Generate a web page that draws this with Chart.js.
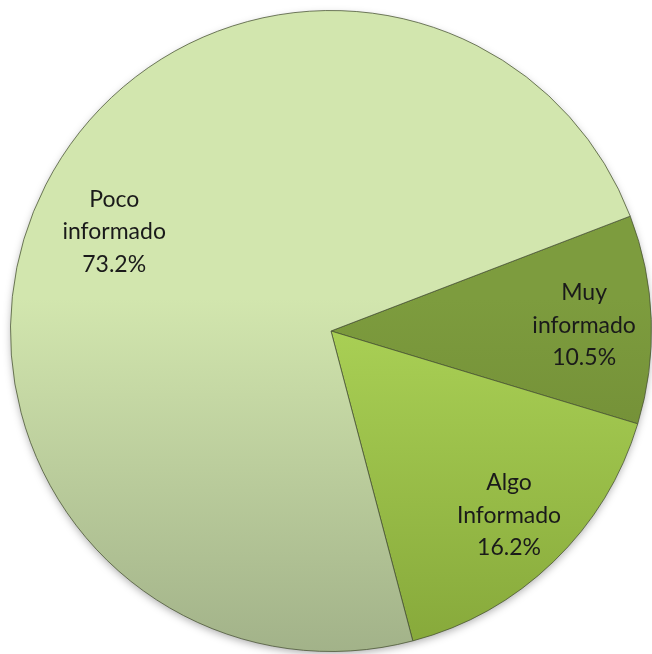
<!DOCTYPE html>
<html>
<head>
    <title>Nivel de información</title>
    <script src="https://cdn.jsdelivr.net/npm/chart.js"></script>
    <style>
        html, body { margin: 0; padding: 0; background: #fff; }
        .chart-container { width: 652px; height: 654px; }
    </style>
</head>
<body>
    <div class="chart-container">
        <canvas id="pieChart"></canvas>
    </div>

    <script>
        // datos
        const categorias = ['Muy informado', 'Algo Informado', 'Poco informado'];
        const etiquetas = [['Muy', 'informado'], ['Algo', 'Informado'], ['Poco', 'informado']];
        const porcentajes = [10.5, 16.2, 73.2];

        // colores (arriba, abajo) de cada porción
        const colores = [
            ['#7d9c3e', '#677f2e'],
            ['#acd357', '#86a83a'],
            ['#d2e6ae', '#a2b289']
        ];
        // posición de la etiqueta: fracción del radio y desvío de ángulo (grados)
        const distEtiqueta = [0.79, 0.80, 0.744];
        const desvioAngulo = [0.8, 0, -2.5];

        function gradiente(ctx, i) {
            const area = ctx.chart.chartArea;
            if (!area) return colores[i][0];
            const g = ctx.chart.ctx.createLinearGradient(0, area.top, 0, area.bottom);
            g.addColorStop(0, colores[i][0]);
            g.addColorStop(0.45, colores[i][0]);
            g.addColorStop(1, colores[i][1]);
            return g;
        }

        // sombra suave bajo la torta
        const sombraPlugin = {
            id: 'sombra',
            beforeDatasetsDraw(chart) {
                const arc = chart.getDatasetMeta(0).data[0];
                if (!arc) return;
                const ctx = chart.ctx;
                ctx.save();
                ctx.shadowColor = 'rgba(0, 0, 0, 0.35)';
                ctx.shadowBlur = 8;
                ctx.shadowOffsetY = 3;
                ctx.fillStyle = '#a2b289';
                ctx.beginPath();
                ctx.arc(arc.x, arc.y, arc.outerRadius - 1, 0, Math.PI * 2);
                ctx.fill();
                ctx.restore();
            }
        };

        // etiquetas dentro de las porciones
        const etiquetasPlugin = {
            id: 'etiquetas',
            afterDatasetsDraw(chart) {
                const ctx = chart.ctx;
                const meta = chart.getDatasetMeta(0);
                ctx.save();
                ctx.font = '23px Lato, sans-serif';
                ctx.fillStyle = '#1a1a1a';
                ctx.textAlign = 'center';
                ctx.textBaseline = 'middle';
                meta.data.forEach((arc, i) => {
                    const p = arc.getProps(['x', 'y', 'startAngle', 'endAngle', 'outerRadius'], true);
                    const a = (p.startAngle + p.endAngle) / 2 + desvioAngulo[i] * Math.PI / 180;
                    const r = p.outerRadius * distEtiqueta[i];
                    const cx = p.x + Math.cos(a) * r;
                    const cy = p.y + Math.sin(a) * r;
                    const lineas = etiquetas[i].concat([porcentajes[i].toFixed(1) + '%']);
                    const lh = 32.5;
                    lineas.forEach((t, k) => {
                        ctx.fillText(t, cx, cy + (k - (lineas.length - 1) / 2) * lh);
                    });
                });
                ctx.restore();
            }
        };

        new Chart(document.getElementById('pieChart'), {
            type: 'pie',
            data: {
                labels: categorias,
                datasets: [{
                    data: porcentajes,
                    backgroundColor: ctx => gradiente(ctx, ctx.dataIndex),
                    borderColor: 'rgba(70, 80, 50, 0.75)',
                    borderWidth: 1
                }]
            },
            options: {
                responsive: true,
                maintainAspectRatio: false,
                animation: false,
                rotation: 69,
                layout: { padding: { left: 10, top: 8, right: 0, bottom: 0 } },
                plugins: {
                    legend: { display: false },
                    tooltip: { enabled: false }
                }
            },
            plugins: [sombraPlugin, etiquetasPlugin]
        });
    </script>
</body>
</html>
